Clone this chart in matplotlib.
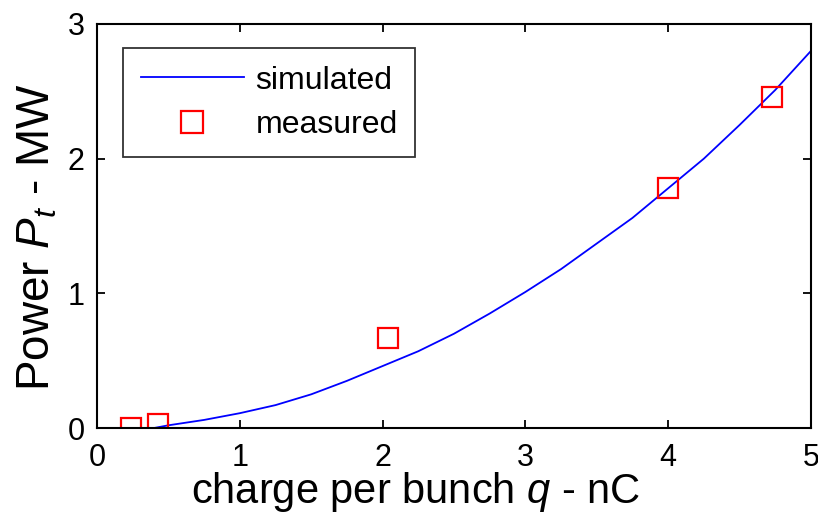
import matplotlib
matplotlib.use("Agg")
import matplotlib.pyplot as plt

# simulated transfer power vs bunch charge
q_sim = [0.0, 0.25, 0.4, 0.5, 0.75, 1.0, 1.25, 1.5, 1.75, 2.0, 2.25, 2.5,
         2.75, 3.0, 3.25, 3.5, 3.75, 4.0, 4.25, 4.5, 4.75, 5.0]
p_sim = [0.0, 0.0, 0.0, 0.02, 0.06, 0.11, 0.17, 0.25, 0.35, 0.46, 0.57, 0.70,
         0.85, 1.01, 1.18, 1.37, 1.56, 1.78, 2.00, 2.25, 2.51, 2.80]

# measured points
q_meas = [0.24, 0.43, 2.04, 4.00, 4.73]
p_meas = [0.00, 0.03, 0.67, 1.78, 2.46]

xticks = [0, 1, 2, 3, 4, 5]
yticks = [0, 1, 2, 3]

plt.rcParams['font.family'] = ['Liberation Sans', 'DejaVu Sans']
plt.rcParams['mathtext.fontset'] = 'custom'
plt.rcParams['mathtext.it'] = 'Liberation Sans:italic'
plt.rcParams['mathtext.rm'] = 'Liberation Sans'

fig = plt.figure(figsize=(8.18, 5.21), dpi=100)
ax = fig.add_axes([0.1186, 0.1785, 0.8728, 0.7755])

ax.plot(q_sim, p_sim, color='#0000ff', lw=1.3, label='simulated')
ax.plot(q_meas, p_meas, ls='none', marker='s', ms=15, mfc='none',
        mec='#ff0000', mew=1.6, label='measured')

ax.set_xlim(0, 5)
ax.set_ylim(0, 3)
ax.set_xticks(xticks)
ax.set_yticks(yticks)
ax.tick_params(direction='in', top=True, right=True, length=6, width=1.3,
               labelsize=22)
ax.tick_params(axis='y', pad=9)
ax.tick_params(axis='x', pad=11)
for s in ax.spines.values():
    s.set_linewidth(1.5)

ax.set_xlabel('charge per bunch $q$ - nC', fontsize=30)
ax.xaxis.set_label_coords(0.447, -0.105, transform=ax.transAxes)
ax.xaxis.label.set_va('top')
ax.set_ylabel('Power $P_t$ - MW', fontsize=33)
ax.yaxis.set_label_coords(-0.052, 0.473, transform=ax.transAxes)

leg = ax.legend(loc='upper left', bbox_to_anchor=(0.0364, 0.9406), fontsize=23,
                frameon=True, fancybox=False, edgecolor='black',
                handlelength=3.25, handletextpad=0.35, borderpad=0.55,
                labelspacing=0.45, borderaxespad=0, markerscale=1.05)
leg.get_frame().set_linewidth(1.3)

fig.savefig('out.png', dpi=100)
